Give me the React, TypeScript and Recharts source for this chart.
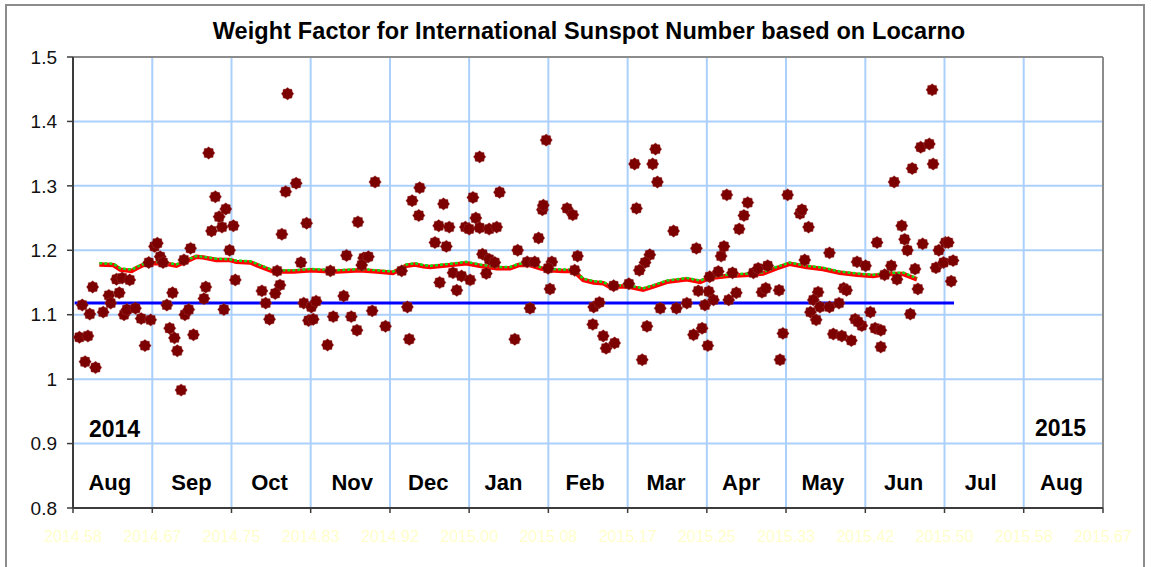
import { ComposedChart, Line, Scatter, XAxis, YAxis, CartesianGrid, ReferenceLine, ReferenceDot } from 'recharts';

// daily weight factor observations (decimal year / factor)
const obsYear = [
  2014.590, 2014.599, 2014.596, 2014.607, 2014.593, 2014.601, 2014.604, 2014.615, 2014.621, 2014.623,
  2014.632, 2014.629, 2014.635, 2014.643, 2014.637, 2014.640, 2014.649, 2014.655, 2014.665, 2014.659,
  2014.663, 2014.669, 2014.672, 2014.675, 2014.678, 2014.682, 2014.685, 2014.690, 2014.693, 2014.697,
  2014.688, 2014.700, 2014.701, 2014.705, 2014.710, 2014.707, 2014.721, 2014.723, 2014.726, 2014.733,
  2014.737, 2014.729, 2014.740, 2014.744, 2014.752, 2014.748, 2014.754, 2014.742,
  2014.809, 2014.818, 2014.807, 2014.829, 2014.803, 2014.823, 2014.798, 2014.782, 2014.801, 2014.796,
  2014.786, 2014.790, 2014.826, 2014.834, 2014.839, 2014.831, 2014.836, 2014.851, 2014.854, 2014.857,
  2014.871, 2014.868, 2014.876, 2014.882, 2014.883, 2014.889, 2014.894, 2014.887, 2014.898, 2014.901,
  2014.912, 2014.929, 2014.935, 2014.937, 2014.940, 2014.948, 2014.947,
  2015.011, 2015.081, 2014.973, 2015.004, 2015.032, 2014.968, 2014.979, 2014.996, 2015.000, 2015.007,
  2015.011, 2015.021, 2015.029, 2014.964, 2014.976, 2015.014, 2015.021, 2015.027, 2014.983, 2014.992,
  2015.001, 2015.018, 2014.969, 2014.987, 2015.051, 2015.061, 2015.069, 2015.073, 2015.064, 2015.048,
  2015.077, 2015.078, 2015.087, 2015.083, 2015.085, 2015.103, 2015.109, 2015.114, 2015.111, 2015.131,
  2015.137, 2015.130, 2015.141, 2015.144,
  2015.196, 2015.174, 2015.193, 2015.198, 2015.176, 2015.215, 2015.190, 2015.185, 2015.179, 2015.152,
  2015.168, 2015.153, 2015.182, 2015.187, 2015.201, 2015.218, 2015.229, 2015.239, 2015.241, 2015.252,
  2015.248, 2015.257, 2015.236, 2015.245, 2015.251, 2015.253, 2015.262, 2015.265, 2015.268, 2015.273,
  2015.271, 2015.293, 2015.289, 2015.284, 2015.277, 2015.281, 2015.299, 2015.304, 2015.314, 2015.308,
  2015.312, 2015.326, 2015.330, 2015.327, 2015.335,
  2015.487, 2015.475, 2015.484, 2015.488, 2015.466, 2015.447, 2015.348, 2015.350, 2015.357, 2015.455,
  2015.458, 2015.461, 2015.429, 2015.477, 2015.494, 2015.501, 2015.504, 2015.379, 2015.353, 2015.408,
  2015.417, 2015.444, 2015.437, 2015.450, 2015.469, 2015.472, 2015.491, 2015.499, 2015.509, 2015.507,
  2015.394, 2015.397, 2015.367, 2015.362, 2015.369, 2015.379, 2015.389, 2015.359, 2015.365, 2015.406,
  2015.413, 2015.422, 2015.464, 2015.383, 2015.392, 2015.402, 2015.427, 2015.433, 2015.433, 2015.409,
];
const obsFactor = [
  1.065, 1.067, 1.027, 1.018, 1.115, 1.101, 1.143, 1.104, 1.130, 1.118,
  1.134, 1.155, 1.157, 1.154, 1.100, 1.108, 1.110, 1.094, 1.092, 1.052,
  1.181, 1.206, 1.211, 1.190, 1.181, 1.115, 1.079, 1.064, 1.044, 0.983,
  1.134, 1.185, 1.100, 1.108, 1.069, 1.203, 1.125, 1.143, 1.351, 1.283,
  1.252, 1.230, 1.236, 1.264, 1.238, 1.200, 1.154, 1.108,
  1.443, 1.304, 1.291, 1.242, 1.225, 1.181, 1.168, 1.137, 1.146, 1.133,
  1.118, 1.093, 1.118, 1.112, 1.121, 1.091, 1.093, 1.053, 1.168, 1.097,
  1.192, 1.129, 1.097, 1.076, 1.244, 1.188, 1.190, 1.177, 1.106, 1.306,
  1.082, 1.168, 1.112, 1.062, 1.277, 1.297, 1.254,
  1.345, 1.371, 1.272, 1.282, 1.290, 1.238, 1.236, 1.236, 1.233, 1.250,
  1.235, 1.233, 1.236, 1.212, 1.206, 1.194, 1.186, 1.181, 1.165, 1.160,
  1.154, 1.164, 1.150, 1.138, 1.200, 1.182, 1.182, 1.219, 1.110, 1.062,
  1.263, 1.270, 1.182, 1.172, 1.140, 1.265, 1.255, 1.191, 1.169, 1.112,
  1.119, 1.085, 1.067, 1.048,
  1.357, 1.334, 1.334, 1.306, 1.265, 1.230, 1.193, 1.181, 1.169, 1.145,
  1.148, 1.056, 1.030, 1.082, 1.110, 1.110, 1.118, 1.203, 1.137, 1.136,
  1.115, 1.123, 1.069, 1.079, 1.052, 1.159, 1.167, 1.191, 1.206, 1.123,
  1.286, 1.274, 1.254, 1.233, 1.165, 1.134, 1.165, 1.172, 1.176, 1.135,
  1.141, 1.138, 1.071, 1.030, 1.286,
  1.449, 1.360, 1.365, 1.334, 1.327, 1.306, 1.257, 1.263, 1.236, 1.238,
  1.217, 1.200, 1.212, 1.210, 1.200, 1.212, 1.212, 1.196, 1.185, 1.182,
  1.176, 1.176, 1.162, 1.155, 1.171, 1.140, 1.173, 1.181, 1.184, 1.152,
  1.141, 1.138, 1.135, 1.123, 1.112, 1.112, 1.118, 1.104, 1.092, 1.093,
  1.083, 1.104, 1.101, 1.070, 1.067, 1.060, 1.079, 1.076, 1.050, 1.089,
];

// running mean (red) and its overlay (green, dotted)
const avgYear = [
  2014.611, 2014.626, 2014.633, 2014.645, 2014.650, 2014.661, 2014.671, 2014.682, 2014.692, 2014.701,
  2014.713, 2014.720, 2014.734, 2014.748, 2014.755, 2014.770, 2014.780, 2014.794, 2014.815, 2014.834,
  2014.847, 2014.861, 2014.885, 2014.903, 2014.920, 2014.934, 2014.943, 2014.952, 2014.959, 2014.980,
  2014.997, 2015.011, 2015.029, 2015.043, 2015.052, 2015.064, 2015.075, 2015.085, 2015.099, 2015.110,
  2015.120, 2015.131, 2015.141, 2015.148, 2015.166, 2015.183, 2015.194, 2015.208, 2015.229, 2015.243,
  2015.253, 2015.271, 2015.295, 2015.309, 2015.323, 2015.337, 2015.355, 2015.372, 2015.390, 2015.408,
  2015.425, 2015.439, 2015.457, 2015.467, 2015.471,
];
const avgRed = [
  1.178, 1.177, 1.170, 1.168, 1.172, 1.180, 1.180, 1.179, 1.176, 1.182,
  1.190, 1.189, 1.185, 1.185, 1.182, 1.181, 1.175, 1.167, 1.167, 1.169,
  1.168, 1.167, 1.169, 1.167, 1.165, 1.176, 1.178, 1.175, 1.174, 1.177,
  1.180, 1.176, 1.172, 1.172, 1.177, 1.177, 1.172, 1.169, 1.168, 1.168,
  1.154, 1.150, 1.149, 1.143, 1.144, 1.139, 1.144, 1.151, 1.155, 1.151,
  1.157, 1.160, 1.162, 1.164, 1.172, 1.179, 1.174, 1.171, 1.165, 1.162,
  1.160, 1.163, 1.163, 1.157, 1.155,
];
const avgGreen = [
  1.180, 1.179, 1.172, 1.170, 1.174, 1.181, 1.182, 1.181, 1.178, 1.184,
  1.191, 1.190, 1.187, 1.186, 1.184, 1.183, 1.177, 1.169, 1.169, 1.171,
  1.170, 1.169, 1.171, 1.169, 1.167, 1.178, 1.180, 1.177, 1.176, 1.179,
  1.182, 1.178, 1.174, 1.174, 1.179, 1.179, 1.174, 1.171, 1.170, 1.170,
  1.156, 1.152, 1.151, 1.145, 1.146, 1.141, 1.146, 1.153, 1.157, 1.153,
  1.159, 1.162, 1.164, 1.166, 1.174, 1.181, 1.176, 1.173, 1.167, 1.164,
  1.162, 1.165, 1.165, 1.159, 1.157,
];

// overall mean
const meanYear = [2014.585, 2015.510];
const meanFactor = [1.118, 1.118];

const xTicks = [
  2014.5833, 2014.6667, 2014.75, 2014.8333, 2014.9167, 2015.0, 2015.0833,
  2015.1667, 2015.25, 2015.3333, 2015.4167, 2015.5, 2015.5833, 2015.6667,
];
const yTicks = [0.8, 0.9, 1.0, 1.1, 1.2, 1.3, 1.4, 1.5];

const monthNames = ['Aug', 'Sep', 'Oct', 'Nov', 'Dec', 'Jan', 'Feb', 'Mar', 'Apr', 'May', 'Jun', 'Jul', 'Aug'];
const monthYear = [
  2014.622, 2014.708, 2014.790, 2014.877, 2014.957, 2015.036, 2015.122,
  2015.207, 2015.286, 2015.372, 2015.457, 2015.538, 2015.623,
];
const monthLabelLevel = 0.840;
const yearNames = ['2014', '2015'];
const yearPos = [2014.627, 2015.622];
const yearLevel = [0.923, 0.925];

const observations = obsYear.map((t, i) => ({ t, v: obsFactor[i] }));
const redAvg = avgYear.map((t, i) => ({ t, v: avgRed[i] }));
const greenAvg = avgYear.map((t, i) => ({ t, v: avgGreen[i] }));
const meanLine = meanYear.map((t, i) => ({ t, v: meanFactor[i] }));

const FONT = '"Liberation Sans", Arial, sans-serif';

const Star = (props: any) => {
  const { cx, cy } = props;
  if (cx == null || cy == null) return null;
  const pts: string[] = [];
  for (let i = 0; i < 16; i++) {
    const a = (Math.PI * i) / 8;
    const r = i % 2 === 0 ? 6.2 : 5.1;
    pts.push(`${(cx + r * Math.cos(a)).toFixed(2)},${(cy + r * Math.sin(a)).toFixed(2)}`);
  }
  return <polygon points={pts.join(' ')} fill="#7d0000" stroke="#a04040" strokeWidth={0.4} />;
};

export default function App() {
  return (
    <div style={{ position: 'absolute', left: 0, top: 0, width: 1151, height: 567, overflow: 'hidden', background: '#fff', fontFamily: FONT }}>
      {/* outer chart frame */}
      <div style={{ position: 'absolute', left: 5, top: 4, width: 1136, height: 640, border: '2px solid #8c8c8c' }} />

      <div
        style={{
          position: 'absolute', top: 18, left: 0, width: 1178, textAlign: 'center',
          fontSize: 23.5, fontWeight: 'bold', lineHeight: '26px', letterSpacing: 0.1, color: '#000',
        }}
      >
        Weight Factor for International Sunspot Number based on Locarno
      </div>

      <div style={{ position: 'absolute', left: 0, top: 0 }}>
        <ComposedChart width={1151} height={567} margin={{ top: 57, right: 48, bottom: 29, left: 0 }}>
          <CartesianGrid stroke="#aad0fb" strokeWidth={2} />
          <XAxis
            dataKey="t"
            type="number"
            domain={[2014.5833, 2015.6667]}
            ticks={xTicks}
            interval={0}
            allowDataOverflow
            tickFormatter={v => v.toFixed(2)}
            tick={{ fill: '#ffffcc', fontSize: 16, fontFamily: FONT }}
            axisLine={{ stroke: '#3c3c3c', strokeWidth: 2 }}
            tickLine={{ stroke: '#3c3c3c', strokeWidth: 1.5 }}
            tickSize={5}
            tickMargin={18}
            height={30}
          />
          <YAxis
            dataKey="v"
            type="number"
            domain={[0.8, 1.5]}
            ticks={yTicks}
            interval={0}
            allowDataOverflow
            tickFormatter={v => String(Number(v.toFixed(1)))}
            tick={{ fill: '#111', fontSize: 19, fontFamily: FONT }}
            axisLine={{ stroke: '#3c3c3c', strokeWidth: 2 }}
            tickLine={{ stroke: '#3c3c3c', strokeWidth: 1.5 }}
            tickSize={6}
            tickMargin={10}
            width={73}
          />
          <ReferenceLine y={1.5} stroke="#8c8c8c" strokeWidth={2} />
          <ReferenceLine x={2015.6667} stroke="#8c8c8c" strokeWidth={2} />

          <Line data={meanLine} dataKey="v" stroke="#0000ff" strokeWidth={3} dot={false} isAnimationActive={false} />
          <Line data={redAvg} dataKey="v" stroke="#ff0000" strokeWidth={4.5} dot={false} isAnimationActive={false} />
          <Scatter data={observations} dataKey="v" shape={Star} isAnimationActive={false} />
          <Line
            data={greenAvg}
            dataKey="v"
            stroke="#11dd11"
            strokeWidth={2.5}
            strokeDasharray="3 2"
            dot={false}
            isAnimationActive={false}
          />

          {monthNames.map((m, i) => (
            <ReferenceDot
              key={'m' + i}
              x={monthYear[i]}
              y={monthLabelLevel}
              r={0}
              fill="none"
              stroke="none"
              label={{ value: m, position: 'center', fill: '#000', fontSize: 22, fontWeight: 'bold', fontFamily: FONT }}
            />
          ))}
          {yearNames.map((yName, i) => (
            <ReferenceDot
              key={'y' + i}
              x={yearPos[i]}
              y={yearLevel[i]}
              r={0}
              fill="none"
              stroke="none"
              label={{ value: yName, position: 'center', fill: '#000', fontSize: 23, fontWeight: 'bold', fontFamily: FONT }}
            />
          ))}
        </ComposedChart>
      </div>
    </div>
  );
}
